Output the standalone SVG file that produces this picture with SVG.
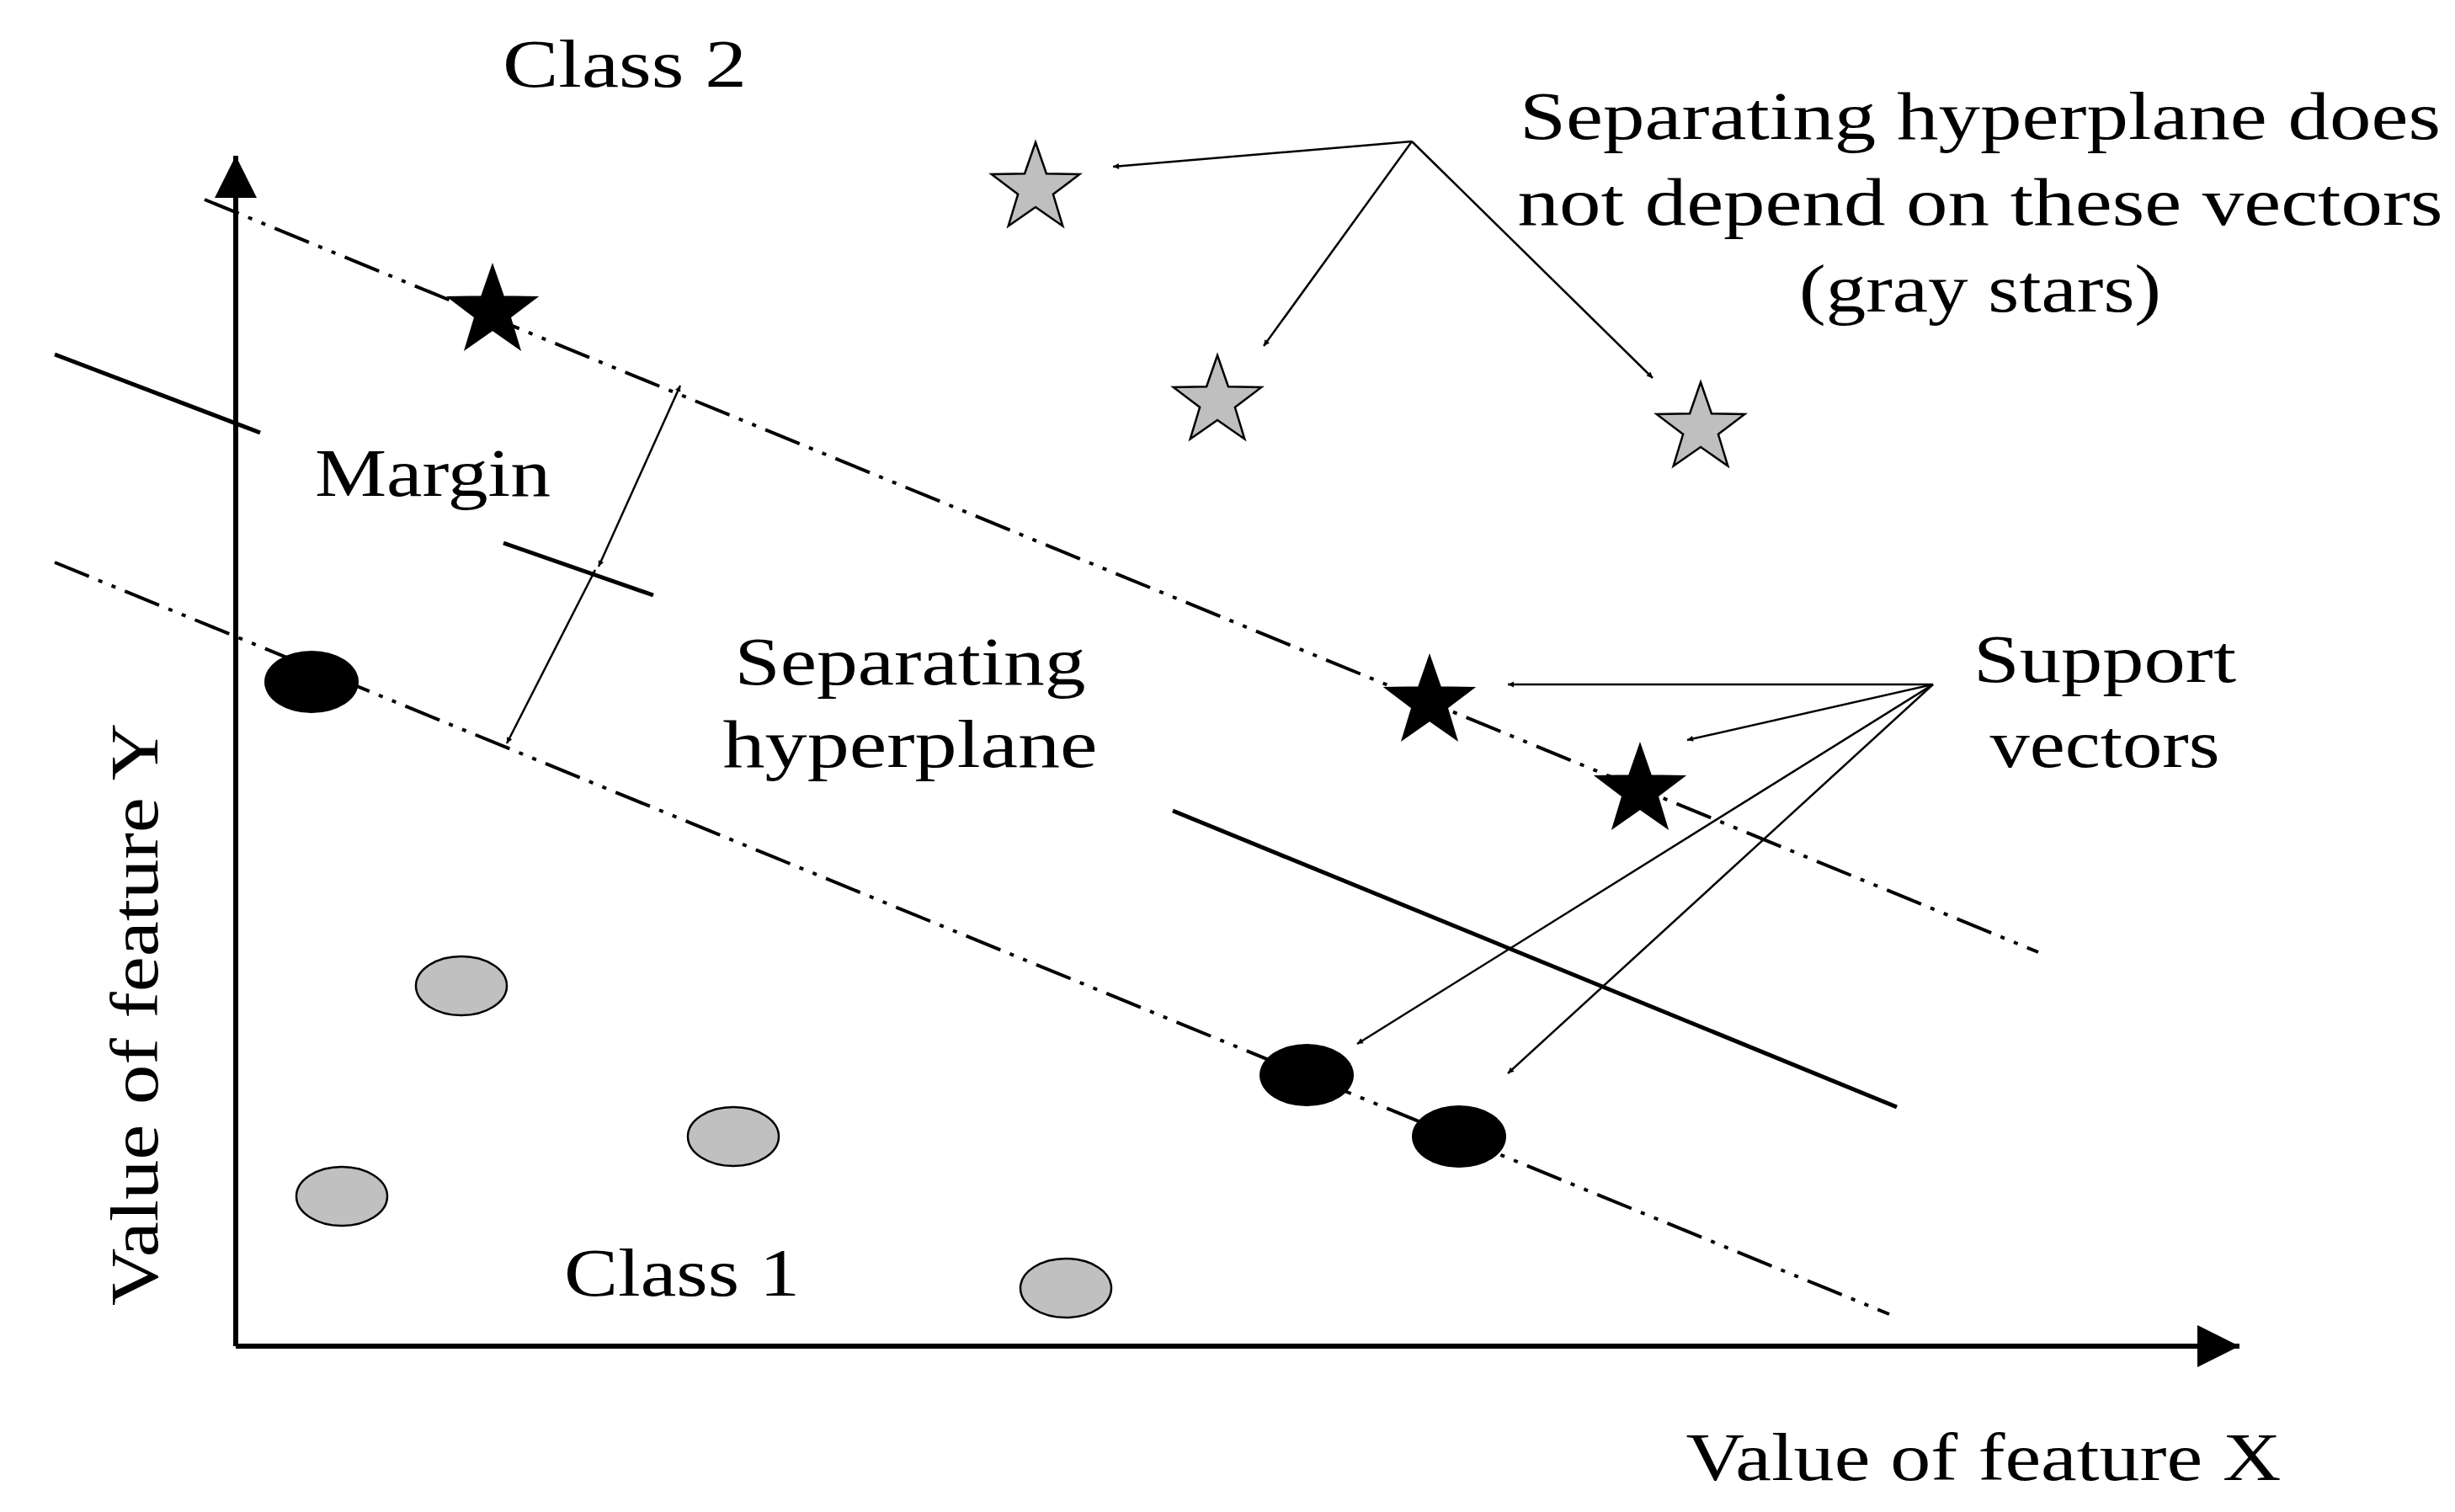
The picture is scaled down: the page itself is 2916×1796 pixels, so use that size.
<svg xmlns="http://www.w3.org/2000/svg" width="2916" height="1796" viewBox="0 0 2916 1796">
<style>
text{font-family:"Liberation Serif","DejaVu Serif",serif;font-size:80px;fill:#000;text-anchor:middle}
.ax{stroke:#000;stroke-width:6;fill:none}
.dd{stroke:#000;stroke-width:4;fill:none;stroke-dasharray:44 12 5 12 5 12}
.sol{stroke:#000;stroke-width:5;fill:none}
.ar{stroke:#000;stroke-width:2.5;fill:none;marker-end:url(#ah)}
.mr{stroke:#000;stroke-width:2.5;fill:none;marker-end:url(#ah);marker-start:url(#ahs)}
</style>
<defs>
<marker id="ah" viewBox="0 0 10 10" refX="10" refY="5" markerWidth="9" markerHeight="7" markerUnits="userSpaceOnUse" orient="auto"><path d="M0,0 L10,5 L0,10z"/></marker>
<marker id="ahs" viewBox="0 0 10 10" refX="0" refY="5" markerWidth="9" markerHeight="7" markerUnits="userSpaceOnUse" orient="auto"><path d="M10,0 L0,5 L10,10z"/></marker>
<marker id="big" viewBox="0 0 10 10" refX="10" refY="5" markerWidth="60" markerHeight="50" markerUnits="userSpaceOnUse" orient="auto"><path d="M0,0 L10,5 L0,10z"/></marker>
<polygon id="star" points="0,-55 12.9,-17.8 52.3,-17 20.9,6.8 32.3,44.5 0,22 -32.3,44.5 -20.9,6.8 -52.3,-17 -12.9,-17.8"/>
</defs>
<rect width="2916" height="1796" fill="#fff"/>
<g id="axes">
<line class="ax" x1="280" y1="1599" x2="280" y2="185" marker-end="url(#big)"/>
<line class="ax" x1="280" y1="1599" x2="2660" y2="1599" marker-end="url(#big)"/>
</g>
<g id="connectors">
<line class="dd" x1="243" y1="237" x2="2421" y2="1131"/>
<line class="dd" x1="65" y1="668" x2="2244" y2="1561"/>
<line class="sol" x1="65" y1="421" x2="309" y2="514"/>
<line class="sol" x1="598" y1="645" x2="776" y2="707"/>
<line class="sol" x1="1393" y1="963" x2="2253" y2="1315"/>
<line class="mr" x1="808" y1="458" x2="711" y2="673"/>
<line class="mr" x1="707" y1="677" x2="602" y2="883"/>
<line class="ar" x1="1677" y1="168" x2="1322" y2="198"/>
<line class="ar" x1="1677" y1="168" x2="1501" y2="411"/>
<line class="ar" x1="1677" y1="168" x2="1963" y2="449"/>
<line class="ar" x1="2296" y1="813" x2="1791" y2="813"/>
<line class="ar" x1="2296" y1="813" x2="2004" y2="879"/>
<line class="ar" x1="2296" y1="813" x2="1612" y2="1240"/>
<line class="ar" x1="2296" y1="813" x2="1791" y2="1275"/>
</g>
<g id="support-stars" fill="#000" stroke="#000" stroke-width="2">
<use href="#star" x="585" y="370"/>
<use href="#star" x="1698" y="834"/>
<use href="#star" x="1948" y="939"/>
</g>
<g id="gray-stars" fill="#bfbfbf" stroke="#000" stroke-width="2.5">
<use href="#star" x="1230" y="224"/>
<use href="#star" x="1446" y="477"/>
<use href="#star" x="2020" y="509"/>
</g>
<g id="support-circles" fill="#000">
<ellipse cx="370" cy="810" rx="56" ry="37"/>
<ellipse cx="1552" cy="1277" rx="56" ry="37"/>
<ellipse cx="1733" cy="1350" rx="56" ry="37"/>
</g>
<g id="gray-circles" fill="#c0c0c0" stroke="#000" stroke-width="2.5">
<ellipse cx="548" cy="1171" rx="54" ry="35"/>
<ellipse cx="406" cy="1421" rx="54" ry="35"/>
<ellipse cx="871" cy="1350" rx="54" ry="35"/>
<ellipse cx="1266" cy="1530" rx="54" ry="35"/>
</g>
<g id="labels">
<text x="742" y="103" textLength="290" lengthAdjust="spacingAndGlyphs">Class 2</text>
<text x="2352" y="165" textLength="1094" lengthAdjust="spacingAndGlyphs">Separating hyperplane does</text>
<text x="2352" y="267" textLength="1099" lengthAdjust="spacingAndGlyphs">not depend on these vectors</text>
<text x="2352" y="370" textLength="430" lengthAdjust="spacingAndGlyphs">(gray stars)</text>
<text x="514" y="589" textLength="280" lengthAdjust="spacingAndGlyphs">Margin</text>
<text x="1081" y="813" textLength="417" lengthAdjust="spacingAndGlyphs">Separating</text>
<text x="1081" y="911" textLength="445" lengthAdjust="spacingAndGlyphs">hyperplane</text>
<text x="2500" y="810" textLength="312" lengthAdjust="spacingAndGlyphs">Support</text>
<text x="2500" y="911" textLength="273" lengthAdjust="spacingAndGlyphs">vectors</text>
<text x="810" y="1539" textLength="280" lengthAdjust="spacingAndGlyphs">Class 1</text>
<text x="2356" y="1758" textLength="707" lengthAdjust="spacingAndGlyphs">Value of feature X</text>
<text transform="translate(187,1205) rotate(-90)" textLength="692" lengthAdjust="spacingAndGlyphs">Value of feature Y</text>
</g>
</svg>
